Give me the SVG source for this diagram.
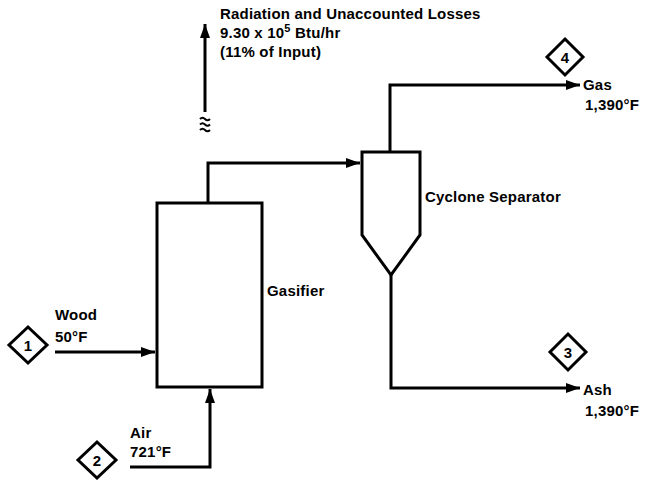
<svg xmlns="http://www.w3.org/2000/svg" width="647" height="480" viewBox="0 0 647 480">
<defs>
<style>
.t{font-family:"Liberation Sans",Arial,sans-serif;font-size:15px;font-weight:bold;letter-spacing:0.2px;fill:#000}
.ln{fill:none;stroke:#000;stroke-width:3;stroke-linejoin:miter}
.eq{fill:#fff;stroke:#000;stroke-width:3}
.dm{fill:#fff;stroke:#000;stroke-width:3;stroke-linejoin:miter}
.dn{font-family:"Liberation Sans",Arial,sans-serif;font-size:15px;font-weight:bold;text-anchor:middle;fill:#000}
</style>
<marker id="ah" markerUnits="userSpaceOnUse" markerWidth="15" markerHeight="11" refX="14" refY="5.5" orient="auto">
<path d="M0,0.5 L14,5.5 L0,10.5 z" fill="#000"/>
</marker>
</defs>
<rect width="647" height="480" fill="#fff"/>

<g id="connectors">
<path class="ln" d="M55,352 H155" marker-end="url(#ah)"/>
<path class="ln" d="M130,467 H210 V389" marker-end="url(#ah)"/>
<path class="ln" d="M208,203 V163 H360" marker-end="url(#ah)"/>
<path class="ln" d="M390,152 V85 H580" marker-end="url(#ah)"/>
<path class="ln" d="M391,275 V388 H580" marker-end="url(#ah)"/>
<path class="ln" d="M205,112 V24" marker-end="url(#ah)"/>
</g>

<g id="losses">
<path d="M200,119 q2.5,-2.5 5,0 t5,0 M200,124.5 q2.5,-2.5 5,0 t5,0 M200,130 q2.5,-2.5 5,0 t5,0" fill="none" stroke="#000" stroke-width="2"/>
<text class="t" x="220" y="19">Radiation and Unaccounted Losses</text>
<text class="t" x="220" y="38">9.30 x 10<tspan font-size="11" dy="-6">5</tspan><tspan dy="6"> Btu/hr</tspan></text>
<text class="t" x="220" y="57">(11% of Input)</text>
</g>

<g id="gasifier">
<rect class="eq" x="157" y="203" width="105" height="184"/>
<text class="t" x="267" y="296">Gasifier</text>
</g>

<g id="cyclone">
<path class="eq" d="M362,152 H420 V235 L391,275 L362,235 Z"/>
<text class="t" x="425" y="202">Cyclone Separator</text>
</g>

<g id="stream1">
<path class="dm" d="M28,327 L47,345 L28,363 L9,345 Z"/>
<text class="dn" x="28" y="350.5">1</text>
<text class="t" x="55" y="320">Wood</text>
<text class="t" x="55" y="342">50°F</text>
</g>

<g id="stream2">
<path class="dm" d="M97,442 L116,460 L97,478 L78,460 Z"/>
<text class="dn" x="97" y="465.5">2</text>
<text class="t" x="130" y="438">Air</text>
<text class="t" x="130" y="457">721°F</text>
</g>

<g id="stream3">
<path class="dm" d="M568,334 L586,352 L568,370 L550,352 Z"/>
<text class="dn" x="568" y="357.5">3</text>
<text class="t" x="583" y="395">Ash</text>
<text class="t" x="585" y="416">1,390°F</text>
</g>

<g id="stream4">
<path class="dm" d="M565,39 L583,57 L565,75 L547,57 Z"/>
<text class="dn" x="565" y="62.5">4</text>
<text class="t" x="583" y="90">Gas</text>
<text class="t" x="585" y="110">1,390°F</text>
</g>
</svg>
